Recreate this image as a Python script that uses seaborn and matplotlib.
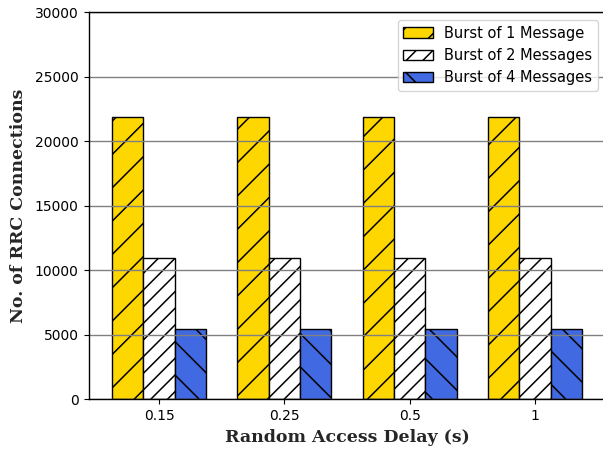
import matplotlib
matplotlib.use("Agg")
import matplotlib.pyplot as plt
import pandas as pd
import seaborn as sns

# Data
delays = ["0.15", "0.25", "0.5", "1"]
series = ["Burst of 1 Message", "Burst of 2 Messages", "Burst of 4 Messages"]
burst_1 = [21900, 21900, 21900, 21900]
burst_2 = [10950, 10950, 10950, 10950]
burst_4 = [5475, 5475, 5475, 5475]
y_ticks = [0, 5000, 10000, 15000, 20000, 25000, 30000]

colors = ["#FFD700", "#FFFFFF", "#4169E1"]
hatches = ["/", "//", "\\"]

df = pd.DataFrame({
    "delay": delays * 3,
    "burst": [series[0]] * 4 + [series[1]] * 4 + [series[2]] * 4,
    "connections": burst_1 + burst_2 + burst_4,
})

sns.set_style("ticks", {"axes.edgecolor": "black", "xtick.color": "black",
                        "ytick.color": "black", "text.color": "black"})
plt.rcParams["font.family"] = ["DejaVu Sans"]
plt.rcParams["hatch.linewidth"] = 1.1
plt.rcParams["hatch.color"] = "black"

fig = plt.figure(figsize=(6.03, 4.51), dpi=100)
ax = fig.add_axes([0.1468, 0.1142, 0.8574, 0.8581])

sns.barplot(data=df, x="delay", y="connections", hue="burst", order=delays,
            hue_order=series, palette=colors, width=0.75, edgecolor="black",
            linewidth=1.0, saturation=1, legend=False, ax=ax)

for container, hatch in zip(ax.containers, hatches):
    for patch in container:
        patch.set_hatch(hatch)

leg = ax.legend(ax.containers, series, loc="upper right", fontsize=10.5,
                edgecolor="0.8", framealpha=0.8)

ax.set_xlim(-0.5625, 3.5625)
ax.set_ylim(0, 30000)
ax.set_yticks(y_ticks)
ax.tick_params(axis="both", labelsize=10, length=3.5, width=0.8,
               pad=3.5, colors="black")
ax.yaxis.grid(True, color="gray", linewidth=1.0)
ax.set_axisbelow(False)
for side in ["left", "top", "bottom", "right"]:
    ax.spines[side].set_visible(True)
    ax.spines[side].set_color("black")
    ax.spines[side].set_linewidth(1.0)
    ax.spines[side].set_zorder(4)

ax.set_xlabel("Random Access Delay (s)", family="DejaVu Serif",
              fontweight="bold", fontsize=12.5, labelpad=4)
ax.set_ylabel("No. of RRC Connections", family="DejaVu Serif",
              fontweight="bold", fontsize=12.5, labelpad=6)

fig.savefig("out.png", dpi=100)
